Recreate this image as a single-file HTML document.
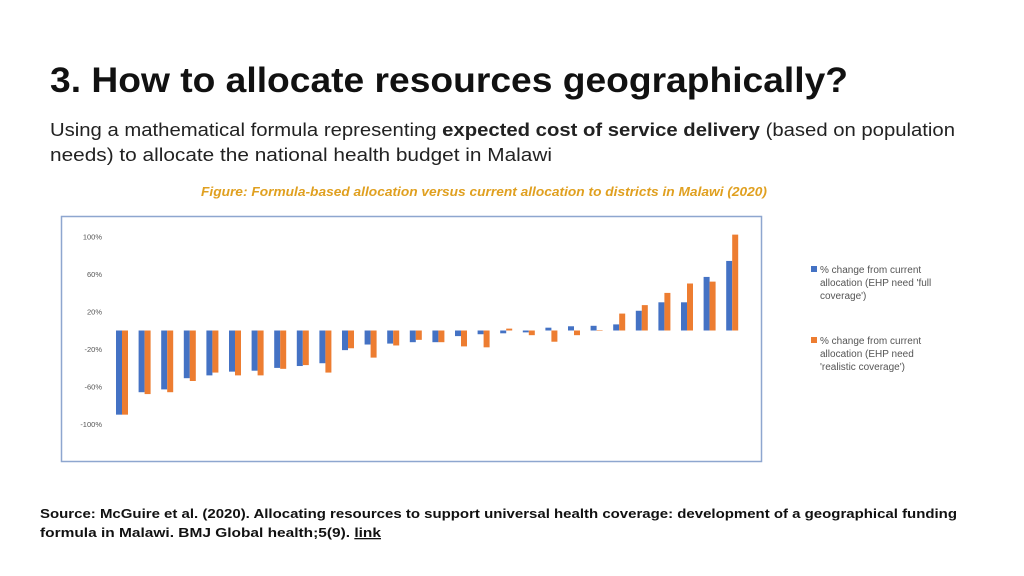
<!DOCTYPE html>
<html><head><meta charset="utf-8"><style>
html,body{margin:0;padding:0;background:#fff;}
svg{display:block;font-family:"Liberation Sans",sans-serif;}
</style></head><body>
<svg id="s" width="1024" height="576" viewBox="0 0 1024 576">
<text x="50" y="92" font-size="35" font-weight="bold" fill="#111" textLength="798" lengthAdjust="spacingAndGlyphs">3. How to allocate resources geographically?</text>
<text x="50" y="136" font-size="18" fill="#222" textLength="905" lengthAdjust="spacingAndGlyphs">Using a mathematical formula representing <tspan font-weight="bold">expected cost of service delivery</tspan> (based on population</text>
<text x="50" y="161" font-size="18" fill="#222" textLength="502" lengthAdjust="spacingAndGlyphs">needs) to allocate the national health budget in Malawi</text>
<text x="201" y="196" font-size="13" font-weight="bold" font-style="italic" fill="#e0a020" textLength="566" lengthAdjust="spacingAndGlyphs">Figure: Formula-based allocation versus current allocation to districts in Malawi (2020)</text>
<rect x="61.5" y="216.5" width="700" height="245" fill="#fff" stroke="#8ea6cf" stroke-width="1.5"/>
<g id="chart"></g>
<g>
<rect x="811" y="266" width="6" height="6" fill="#4472c4"/>
<text font-size="10" fill="#555"><tspan x="820" y="273">% change from current</tspan><tspan x="820" y="286">allocation (EHP need 'full</tspan><tspan x="820" y="299">coverage')</tspan></text>
<rect x="811" y="337" width="6" height="6" fill="#ed7d31"/>
<text font-size="10" fill="#555"><tspan x="820" y="344">% change from current</tspan><tspan x="820" y="357">allocation (EHP need</tspan><tspan x="820" y="370">'realistic coverage')</tspan></text>
</g>
<text x="40" y="518" font-size="13" font-weight="bold" fill="#111" textLength="917" lengthAdjust="spacingAndGlyphs">Source: McGuire et al. (2020). Allocating resources to support universal health coverage: development of a geographical funding</text>
<text x="40" y="537" font-size="13" font-weight="bold" fill="#111" textLength="341" lengthAdjust="spacingAndGlyphs">formula in Malawi. BMJ Global health;5(9). <tspan text-decoration="underline">link</tspan></text>
</svg>
<script>
const tickValues=[100,60,20,-20,-60,-100];
const tickLabels=["100%","60%","20%","-20%","-60%","-100%"];
const fullCoverage=[-90,-66,-63,-51,-48,-44,-43,-40,-38,-35,-21,-15,-14,-12.5,-12.5,-6,-4,-3,-2,3,4.5,5,6.5,21,30,30,57,74];
const realisticCoverage=[-90,-68,-66,-54,-45,-48,-48,-41,-37,-45,-19,-29,-16,-10,-12.5,-17,-18,2,-5,-12,-5,0.5,18,27,40,50,52,102];
const NS="http://www.w3.org/2000/svg";
const g=document.getElementById('chart');
const y0=330.5, yTop=236.5, yBot=424;
function yScale(v){return y0-(v/100)*(y0-yTop)*(v>=0?1:(yBot-y0)/(y0-yTop));}
const xStart=122, step=22.6, bw=6;
function xScale(i){return xStart+i*step;}
tickValues.forEach((v,i)=>{
  const t=document.createElementNS(NS,'text');
  
  
  t.setAttribute('x',102);t.setAttribute('y',yScale(v)+3);
  t.setAttribute('font-size','7.5');t.setAttribute('fill','#555');t.setAttribute('text-anchor','end');
  t.textContent=tickLabels[i];g.appendChild(t);
});
function bar(i,v,dx,color,name){
  const r=document.createElementNS(NS,'rect');
  
  
  const a=yScale(v),b=y0;
  r.setAttribute('x',xScale(i)+dx);r.setAttribute('width',bw);
  r.setAttribute('y',Math.min(a,b));r.setAttribute('height',Math.max(Math.abs(a-b),0.5));
  r.setAttribute('fill',color);g.appendChild(r);
}
fullCoverage.forEach((v,i)=>bar(i,v,-bw,'#4472c4','bar-full-coverage'));
realisticCoverage.forEach((v,i)=>bar(i,v,0,'#ed7d31','bar-realistic-coverage'));
</script>
</body></html>
